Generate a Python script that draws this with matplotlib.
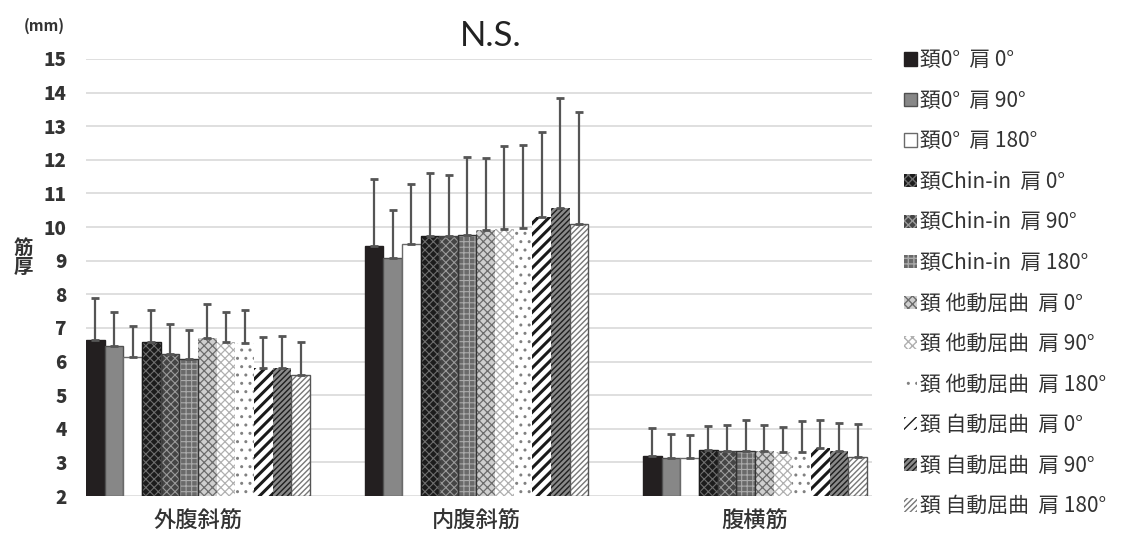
import numpy as np
import matplotlib
matplotlib.use("Agg")
import matplotlib.pyplot as plt

plt.rcParams['font.family'] = ['Noto Sans CJK JP', 'DejaVu Sans']

# ---- data -------------------------------------------------------------
muscles = ['外腹斜筋', '内腹斜筋', '腹横筋']
conditions = [
    '頚0°  肩 0°', '頚0°  肩 90°', '頚0°  肩 180°',
    '頚Chin-in  肩 0°', '頚Chin-in  肩 90°', '頚Chin-in  肩 180°',
    '頚 他動屈曲  肩 0°', '頚 他動屈曲  肩 90°', '頚 他動屈曲  肩 180°',
    '頚 自動屈曲  肩 0°', '頚 自動屈曲  肩 90°', '頚 自動屈曲  肩 180°',
]
# mean thickness (mm): one row per condition, columns follow `muscles`
means = [
    [6.63, 9.45, 3.19],
    [6.46, 9.09, 3.14],
    [6.13, 9.49, 3.14],
    [6.57, 9.73, 3.37],
    [6.22, 9.73, 3.34],
    [6.08, 9.75, 3.35],
    [6.71, 9.90, 3.34],
    [6.57, 9.94, 3.32],
    [6.55, 9.97, 3.32],
    [5.81, 10.31, 3.42],
    [5.81, 10.57, 3.35],
    [5.61, 10.10, 3.16],
]
# standard deviation (mm)
sds = [
    [1.25, 1.98, 0.82],
    [1.00, 1.42, 0.70],
    [0.92, 1.79, 0.66],
    [0.96, 1.89, 0.70],
    [0.90, 1.81, 0.76],
    [0.86, 2.33, 0.90],
    [0.99, 2.15, 0.78],
    [0.90, 2.47, 0.73],
    [0.98, 2.47, 0.92],
    [0.91, 2.51, 0.84],
    [0.94, 3.26, 0.82],
    [0.97, 3.31, 0.98],
]
y_ticks = list(range(2, 16))

# ---- bar styles: (face, hatch, hatch colour, hatch width, outline) -------
styles = [
    ('#231f20', None, '#231f20', 1.0, None),
    ('#878787', None, '#505050', 1.0, None),
    ('#ffffff', None, '#6a6a6a', 1.0, None),
    ('#1c1c1c', 'xxxx', '#6e6e6e', 0.8, '#1c1c1c'),
    ('#454545', 'xxxx', '#9a9a9a', 0.8, '#454545'),
    ('#6a6a6a', '+++', '#aaaaaa', 0.8, '#333333'),
    ('#cfcfcf', 'xxxx', '#6c6c6c', 0.9, None),
    ('#ffffff', 'xxxx', '#b0b0b0', 0.9, None),
    ('#ffffff', '..', '#808080', 1.0, None),
    ('#ffffff', '///', '#1a1a1a', 2.2, None),
    ('#8a8a8a', '//////', '#1e1e1e', 1.0, None),
    ('#ffffff', '//////', '#777777', 1.0, '#555555'),
]

W, H = 1125, 536
fig = plt.figure(figsize=(W / 100, H / 100), dpi=100)
ax = fig.add_axes([86 / W, (H - 496) / H, (872 - 86) / W, (496 - 59) / H])

n = len(conditions)
bw = 0.067
x = np.arange(len(muscles))
handles = []
for i in range(n):
    face, hatch, hcol, hlw, outline = styles[i]
    pos = x - bw * n / 2 + bw * (i + 0.5)
    m = np.array(means[i])
    s = np.array(sds[i])
    # plain bars carry their own outline; hatched bars get one drawn on top
    lw = 0 if hatch else 1.0
    bars = ax.bar(pos, m - 2, bw, bottom=2, color=face, hatch=hatch,
                  edgecolor=hcol, linewidth=lw, zorder=2)
    for b in bars:
        if hasattr(b, 'set_hatch_linewidth'):
            b.set_hatch_linewidth(hlw)
    handles.append(bars[0])
    if outline is not None:
        ax.bar(pos, m - 2, bw, bottom=2, fill=False, edgecolor=outline,
               linewidth=1.0, zorder=3)
    ax.errorbar(pos, m, yerr=[np.zeros_like(s), s], fmt='none',
                ecolor='#555555', elinewidth=1.6, capsize=3, capthick=2,
                zorder=4)

ax.set_xlim(-0.402, 2.42)
ax.set_ylim(2, 15)
ax.set_yticks(y_ticks)
ax.set_yticklabels([str(t) for t in y_ticks], fontsize=13.5,
                   fontweight='black', color='#333333')
ax.set_xticks(x)
ax.set_xticklabels(muscles, fontsize=16, fontweight='medium', color='#333333')
ax.tick_params(axis='both', length=0)
ax.tick_params(axis='y', pad=14)
ax.tick_params(axis='x', pad=10)
ax.grid(axis='y', color='#d9d9d9', linewidth=1.2, zorder=0)
ax.set_axisbelow(True)
for sp in ax.spines.values():
    sp.set_visible(False)

fig.text(491 / W, 1 - 36 / H, 'N.S.', fontsize=25, family=['Lato', 'DejaVu Sans'],
         color='#222222', ha='center', va='center')
fig.text(44 / W, 1 - 26 / H, '(mm)', fontsize=11, fontweight='bold',
         color='#333333', ha='center', va='center')
fig.text(23 / W, 1 - 258 / H, '筋\n厚', fontsize=14, fontweight='bold',
         color='#333333', ha='center', va='center', linespacing=1.0)

fig.legend(handles, conditions, loc='upper left',
           bbox_to_anchor=(896 / W, 1 - 41 / H), frameon=False,
           fontsize=15, handlelength=0.6, handleheight=0.6,
           handletextpad=0.15, labelspacing=0.89, borderaxespad=0,
           labelcolor='#333333')

fig.savefig('out.png', dpi=100)
